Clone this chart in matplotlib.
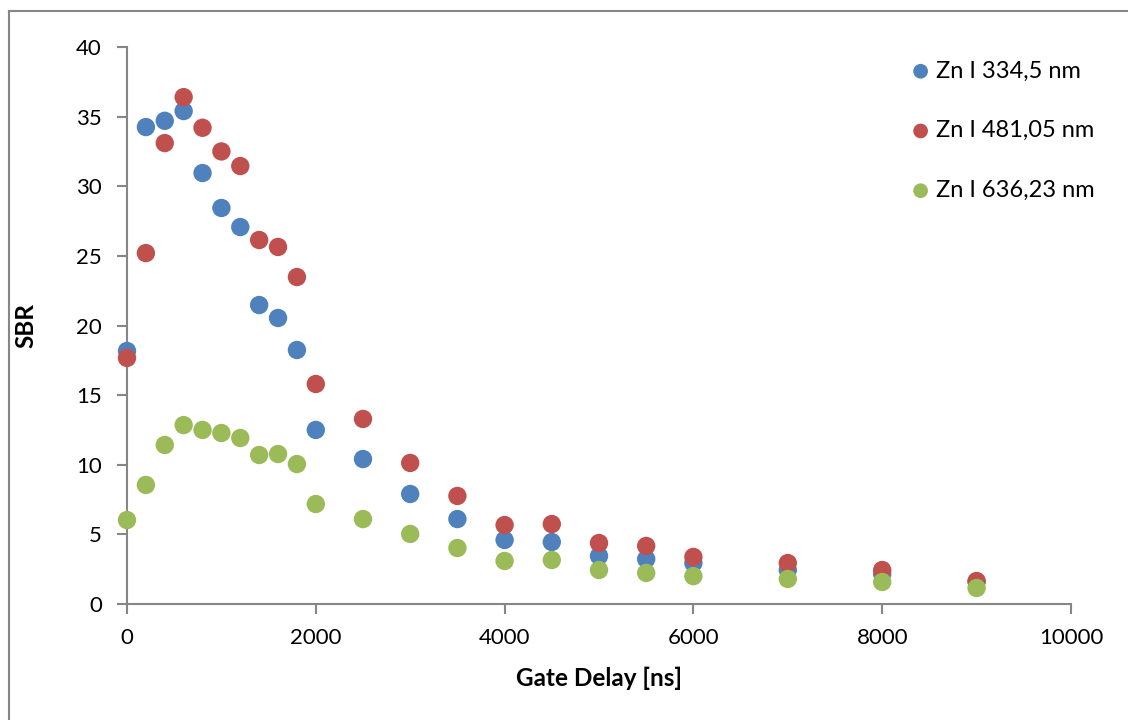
import matplotlib
matplotlib.use('Agg')
import matplotlib.pyplot as plt
from matplotlib.lines import Line2D

plt.rcParams['font.family'] = ['Lato', 'DejaVu Sans']

delay = [0, 200, 400, 600, 800, 1000, 1200, 1400, 1600, 1800, 2000,
         2500, 3000, 3500, 4000, 4500, 5000, 5500, 6000, 7000, 8000, 9000]

zn_334 = [18.17, 34.25, 34.7, 35.4, 30.95, 28.44, 27.07, 21.47, 20.54, 18.24, 12.5,
          10.41, 7.9, 6.1, 4.6, 4.45, 3.45, 3.23, 2.94, 2.44, 2.15, 1.6]
zn_481 = [17.67, 25.2, 33.1, 36.4, 34.2, 32.5, 31.45, 26.14, 25.64, 23.48, 15.8,
          13.29, 10.13, 7.76, 5.67, 5.74, 4.38, 4.17, 3.38, 2.94, 2.44, 1.65]
zn_636 = [6.03, 8.55, 11.42, 12.85, 12.5, 12.28, 11.92, 10.7, 10.77, 10.05, 7.18,
          6.1, 5.03, 4.02, 3.09, 3.16, 2.44, 2.23, 2.0, 1.8, 1.58, 1.15]

labels = ['Zn I 334,5 nm', 'Zn I 481,05 nm', 'Zn I 636,23 nm']
colors = ['#4F81BD', '#C0504D', '#9BBB59']

fig = plt.figure(figsize=(11.28, 7.2), dpi=100)
ax = fig.add_axes([127/1128, 1 - 604/720, (1071-127)/1128, (604-47)/720])

for ys, c, lab in zip([zn_334, zn_481, zn_636], colors, labels):
    ax.scatter(delay, ys, s=175, color=c, label=lab, edgecolors='none', zorder=3, clip_on=False)

ax.set_xlim(0, 10000)
ax.set_ylim(0, 40)
ax.set_xticks(range(0, 10001, 2000))
ax.set_yticks(range(0, 41, 5))

axis_gray = '#868686'
for side in ['top', 'right']:
    ax.spines[side].set_visible(False)
for side in ['left', 'bottom']:
    ax.spines[side].set_color(axis_gray)
    ax.spines[side].set_linewidth(1.5)
ax.tick_params(axis='both', colors=axis_gray, length=7, width=1.5, labelsize=16,
               labelcolor='black', direction='out')
ax.tick_params(axis='x', pad=10)
ax.tick_params(axis='y', pad=11)

ax.set_xlabel('Gate Delay [ns]', fontsize=17.5, fontweight='bold', labelpad=14)
ax.set_ylabel('SBR', fontsize=17.5, fontweight='bold', labelpad=28)

ax.legend(loc='upper left', bbox_to_anchor=(897/1128, 1 - 51/720), bbox_transform=fig.transFigure,
          frameon=False, fontsize=17, labelspacing=1.64, handletextpad=0.05, markerscale=0.8,
          handlelength=1.2, borderaxespad=0)

# outer chart border (Excel chart area)
fig.add_artist(Line2D([9/1128, 9/1128], [0, 1 - 11/720], transform=fig.transFigure,
                      color=axis_gray, linewidth=1.5))
fig.add_artist(Line2D([9/1128, 1], [1 - 11/720, 1 - 11/720], transform=fig.transFigure,
                      color=axis_gray, linewidth=1.5))

fig.savefig('out.png', dpi=100)
